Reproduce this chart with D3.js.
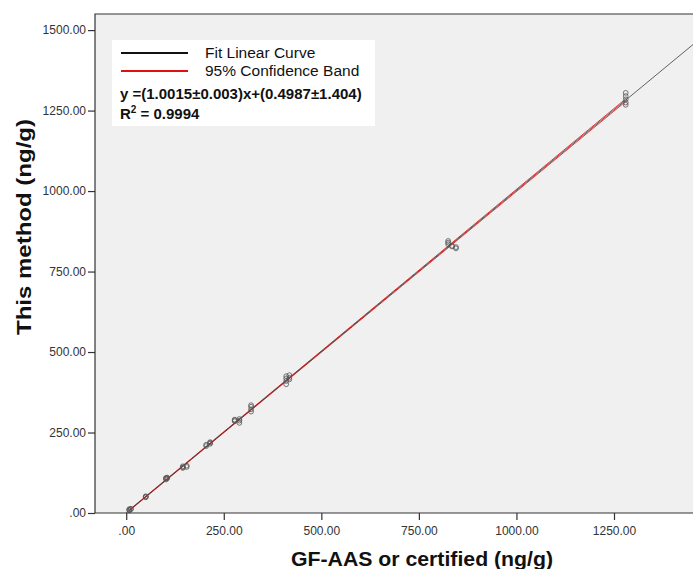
<!DOCTYPE html>
<html>
<head>
<meta charset="utf-8">
<script src="https://cdn.jsdelivr.net/npm/d3@7"></script>
<style>
  html, body { margin: 0; padding: 0; background: #fff; }
  svg { display: block; font-family: "Liberation Sans", Arial, sans-serif; }
</style>
</head>
<body>
<svg id="chart" width="693" height="569"></svg>
<script>
// Reference values (GF-AAS or certified) and the replicate results of this method
const refValues = [8, 8, 8, 12, 12, 50, 50, 50, 102, 102, 102, 105, 105, 145, 145, 145, 155, 155,
  205, 205, 215, 215, 215, 278, 278, 278, 290, 290, 290, 320, 320, 320, 320,
  410, 410, 410, 410, 418, 418, 418, 825, 825, 825, 835, 835, 845, 845,
  1280, 1280, 1280, 1280, 1280];
const methodValues = [8, 10, 12, 12, 13, 50, 52, 49, 104, 107, 109, 108, 110, 140, 145, 142, 143, 147,
  208, 212, 215, 220, 218, 285, 290, 288, 280, 292, 287, 315, 322, 330, 335,
  400, 410, 418, 425, 415, 420, 428, 835, 840, 845, 830, 828, 822, 826,
  1268, 1275, 1285, 1295, 1305];

// Linear fit: y = (1.0015±0.003)x + (0.4987±1.404)
const fitSlope = 1.0015, fitSlopeErr = 0.003;
const fitIntercept = 0.4987, fitInterceptErr = 1.404;
const rSquared = "0.9994";

const xTicks = [0, 250, 500, 750, 1000, 1250];
const yTicks = [0, 250, 500, 750, 1000, 1250, 1500];

const legendItems = ["Fit Linear Curve", "95% Confidence Band"];
const xTitle = "GF-AAS or certified (ng/g)";
const yTitle = "This method (ng/g)";

const svg = d3.select("#chart");
const plotLeft = 95, plotRight = 694, plotTop = 14, plotBottom = 513;

const x = d3.scaleLinear().domain([-80, 1455]).range([plotLeft, plotRight]);
const y = d3.scaleLinear().domain([0, 1550]).range([plotBottom, plotTop]);

const fmt = v => { const s = d3.format(".2f")(v); return s.startsWith("0.") ? s.slice(1) : s; };

// plot background
svg.append("rect").attr("x", plotLeft).attr("y", plotTop)
  .attr("width", plotRight - plotLeft).attr("height", plotBottom - plotTop).attr("fill", "#f0f0f0");

// confidence band (two bounding lines over the data range)
const xMin = d3.min(refValues), xMax = d3.max(refValues);
const bandX = d3.range(0, 41).map(i => xMin + (xMax - xMin) * i / 40);
const half = v => Math.sqrt((fitSlopeErr * v) ** 2 + fitInterceptErr ** 2);
const xyLine = d3.line().x(d => x(d[0])).y(d => y(d[1]));
svg.append("path").datum(bandX.map(v => [v, fitSlope * v + fitIntercept + half(v)]))
  .attr("d", xyLine).attr("fill", "none").attr("stroke", "#d22").attr("stroke-width", 0.9);
svg.append("path").datum(bandX.map(v => [v, fitSlope * v + fitIntercept - half(v)]))
  .attr("d", xyLine).attr("fill", "none").attr("stroke", "#d22").attr("stroke-width", 0.9);

// fit line across the visible range
const fitX = [0, 1455];
svg.append("path").datum(fitX.map(v => [v, fitSlope * v + fitIntercept]))
  .attr("d", xyLine).attr("fill", "none").attr("stroke", "#222").attr("stroke-width", 0.7);

// data points
svg.append("g").selectAll("circle").data(refValues.map((v, i) => [v, methodValues[i]]))
  .join("circle")
  .attr("cx", d => x(d[0])).attr("cy", d => y(d[1])).attr("r", 2.4)
  .attr("fill", "none").attr("stroke", "#555").attr("stroke-width", 0.8);

// axes
const xAxis = svg.append("g").attr("transform", `translate(0,${plotBottom})`)
  .call(d3.axisBottom(x).tickValues(xTicks).tickFormat(fmt).tickSize(7).tickPadding(6));
const yAxis = svg.append("g").attr("transform", `translate(${plotLeft},0)`)
  .call(d3.axisLeft(y).tickValues(yTicks).tickFormat(fmt).tickSize(7).tickPadding(2));
[xAxis, yAxis].forEach(g => {
  g.select(".domain").remove();
  g.selectAll("line").attr("stroke", "#333").attr("stroke-width", 1.2);
  g.selectAll("text").attr("fill", "#333").style("font-size", "12px")
    .style("font-family", "'Liberation Sans', Arial, sans-serif");
});

// frame
svg.append("path")
  .attr("d", `M${plotRight},${plotTop}H${plotLeft}V${plotBottom}H${plotRight}`)
  .attr("fill", "none").attr("stroke", "#333").attr("stroke-width", 1.2);

// legend
const lg = svg.append("g");
lg.append("rect").attr("x", 112).attr("y", 40).attr("width", 263).attr("height", 86).attr("fill", "#fff");
const legendColors = ["#111", "#d11"];
legendItems.forEach((t, i) => {
  const cy = 53 + i * 18;
  lg.append("line").attr("x1", 121).attr("x2", 188).attr("y1", cy).attr("y2", cy)
    .attr("stroke", legendColors[i]).attr("stroke-width", 2);
  lg.append("text").attr("x", 205).attr("y", cy + 5).text(t)
    .style("font-size", "15.5px").attr("fill", "#111");
});
lg.append("text").attr("x", 120).attr("y", 99)
  .text(`y =(${fitSlope}±${fitSlopeErr})x+(${fitIntercept}±${fitInterceptErr})`)
  .style("font-size", "15px").style("font-weight", "bold").attr("fill", "#111");
const r2 = lg.append("text").attr("x", 120).attr("y", 119)
  .style("font-size", "15px").style("font-weight", "bold").attr("fill", "#111");
r2.append("tspan").text("R");
r2.append("tspan").text("2").attr("dy", -6).style("font-size", "10px");
r2.append("tspan").text(` = ${rSquared}`).attr("dy", 6);

// axis titles
svg.append("text").attr("x", 422).attr("y", 566).attr("text-anchor", "middle")
  .attr("textLength", 262).attr("lengthAdjust", "spacingAndGlyphs")
  .style("font-size", "20px").style("font-weight", "bold").attr("fill", "#111").text(xTitle);
svg.append("text").attr("transform", "translate(31,227) rotate(-90)").attr("text-anchor", "middle")
  .attr("textLength", 216).attr("lengthAdjust", "spacingAndGlyphs")
  .style("font-size", "20px").style("font-weight", "bold").attr("fill", "#111").text(yTitle);
</script>
</body>
</html>
